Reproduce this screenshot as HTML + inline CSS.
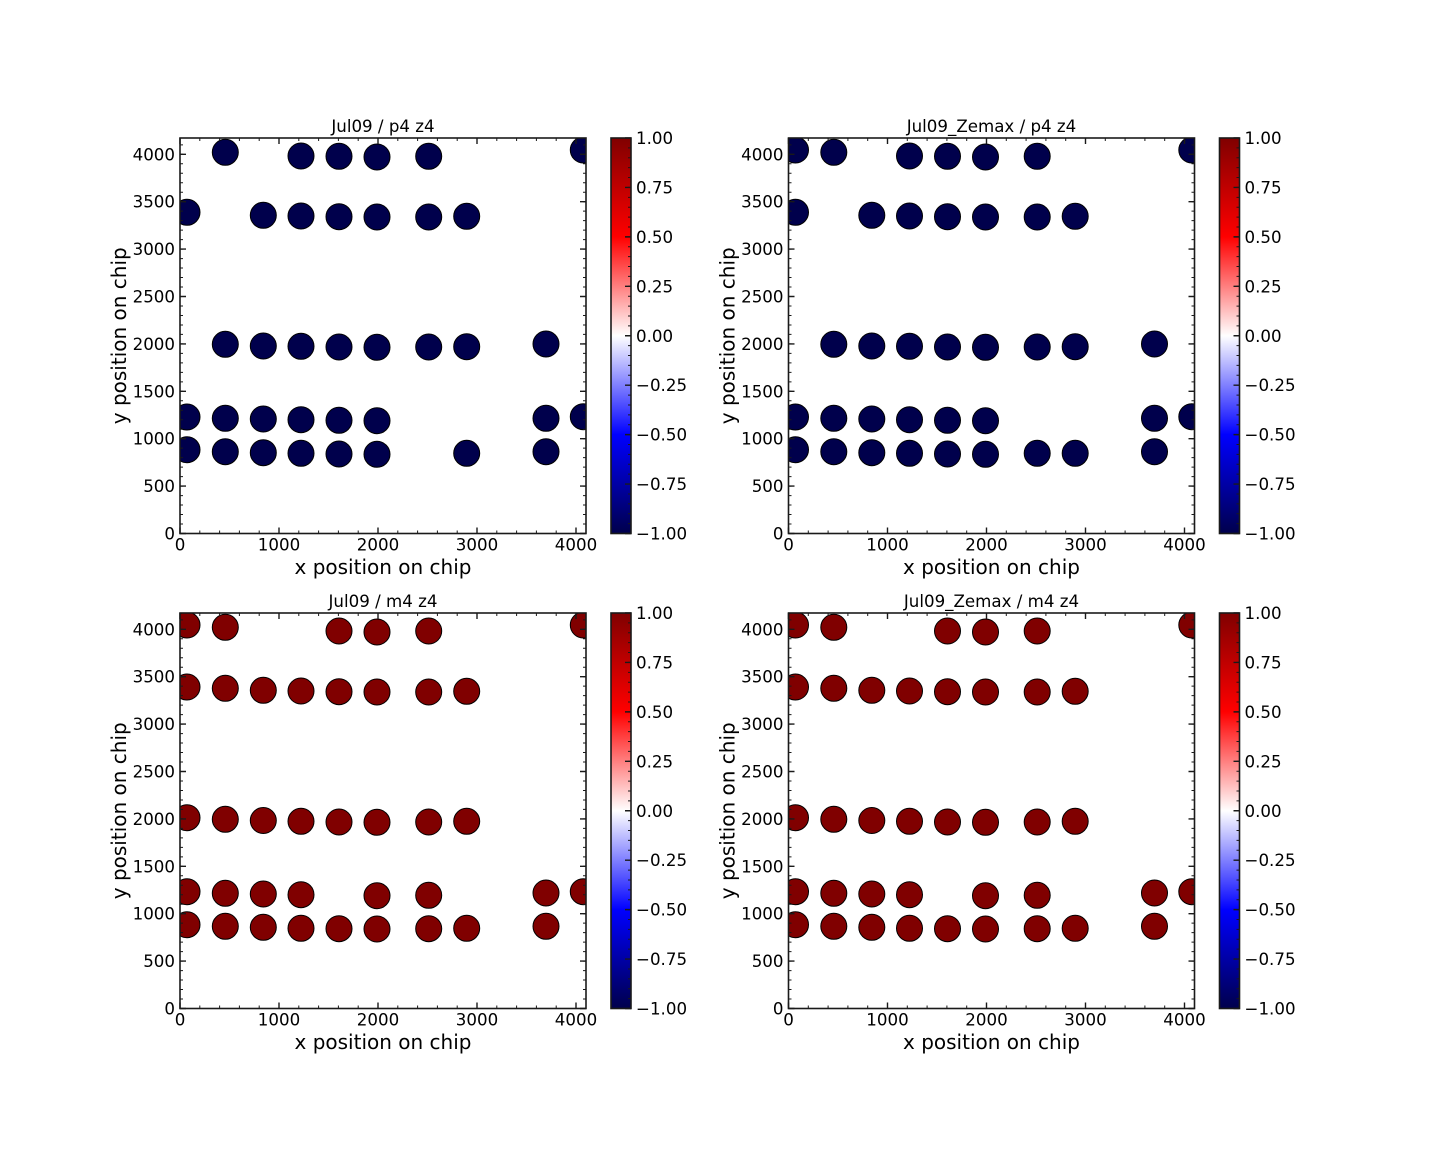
<!DOCTYPE html>
<html>
<head>
<meta charset="utf-8">
<style>
html,body{margin:0;padding:0;background:#fff;}
svg{display:block;}
text{font-family:"DejaVu Sans","Liberation Sans",sans-serif;fill:#000;}
</style>
</head>
<body>
<svg width="1440" height="1152" viewBox="0 0 1440 1152" xmlns="http://www.w3.org/2000/svg" xmlns:xlink="http://www.w3.org/1999/xlink">
<defs>
  <linearGradient id="seis" x1="0" y1="0" x2="0" y2="1">
    <stop offset="0" stop-color="#800000"/>
    <stop offset="0.25" stop-color="#ff0000"/>
    <stop offset="0.5" stop-color="#ffffff"/>
    <stop offset="0.75" stop-color="#0000ff"/>
    <stop offset="1" stop-color="#00004c"/>
  </linearGradient>
  <g id="ax" fill="none" stroke="#1a1a1a">
    <path stroke-width="1.4" d="M0 395.5v-6M99 395.5v-6M198 395.5v-6M297 395.5v-6M396 395.5v-6M0 0v6M99 0v6M198 0v6M297 0v6M396 0v6M0 395.5h6M0 348.1h6M0 300.7h6M0 253.3h6M0 205.9h6M0 158.5h6M0 111.1h6M0 63.7h6M0 16.3h6M406 395.5h-6M406 348.1h-6M406 300.7h-6M406 253.3h-6M406 205.9h-6M406 158.5h-6M406 111.1h-6M406 63.7h-6M406 16.3h-6"/>
    <path stroke-width="1" d="M0 395.5v-3m19.8 3v-3m19.8 3v-3m19.8 3v-3m19.8 3v-3m19.8 3v-3m19.8 3v-3m19.8 3v-3m19.8 3v-3m19.8 3v-3m19.8 3v-3m19.8 3v-3m19.8 3v-3m19.8 3v-3m19.8 3v-3m19.8 3v-3m19.8 3v-3m19.8 3v-3m19.8 3v-3m19.8 3v-3m19.8 3v-3"/>
    <path stroke-width="1" d="M0 0v3m19.8 -3v3m19.8 -3v3m19.8 -3v3m19.8 -3v3m19.8 -3v3m19.8 -3v3m19.8 -3v3m19.8 -3v3m19.8 -3v3m19.8 -3v3m19.8 -3v3m19.8 -3v3m19.8 -3v3m19.8 -3v3m19.8 -3v3m19.8 -3v3m19.8 -3v3m19.8 -3v3m19.8 -3v3m19.8 -3v3"/>
    <path stroke-width="1" d="M0 395.5h3m-3 -9.48h3m-3 -9.48h3m-3 -9.48h3m-3 -9.48h3m-3 -9.48h3m-3 -9.48h3m-3 -9.48h3m-3 -9.48h3m-3 -9.48h3m-3 -9.48h3m-3 -9.48h3m-3 -9.48h3m-3 -9.48h3m-3 -9.48h3m-3 -9.48h3m-3 -9.48h3m-3 -9.48h3m-3 -9.48h3m-3 -9.48h3m-3 -9.48h3m-3 -9.48h3m-3 -9.48h3m-3 -9.48h3m-3 -9.48h3m-3 -9.48h3m-3 -9.48h3m-3 -9.48h3m-3 -9.48h3m-3 -9.48h3m-3 -9.48h3m-3 -9.48h3m-3 -9.48h3m-3 -9.48h3m-3 -9.48h3m-3 -9.48h3m-3 -9.48h3m-3 -9.48h3m-3 -9.48h3m-3 -9.48h3m-3 -9.48h3m-3 -9.48h3"/>
    <path stroke-width="1" d="M406 395.5h-3m3 -9.48h-3m3 -9.48h-3m3 -9.48h-3m3 -9.48h-3m3 -9.48h-3m3 -9.48h-3m3 -9.48h-3m3 -9.48h-3m3 -9.48h-3m3 -9.48h-3m3 -9.48h-3m3 -9.48h-3m3 -9.48h-3m3 -9.48h-3m3 -9.48h-3m3 -9.48h-3m3 -9.48h-3m3 -9.48h-3m3 -9.48h-3m3 -9.48h-3m3 -9.48h-3m3 -9.48h-3m3 -9.48h-3m3 -9.48h-3m3 -9.48h-3m3 -9.48h-3m3 -9.48h-3m3 -9.48h-3m3 -9.48h-3m3 -9.48h-3m3 -9.48h-3m3 -9.48h-3m3 -9.48h-3m3 -9.48h-3m3 -9.48h-3m3 -9.48h-3m3 -9.48h-3m3 -9.48h-3m3 -9.48h-3m3 -9.48h-3m3 -9.48h-3"/>
    <rect x="0" y="0" width="406" height="395.5" stroke-width="1.6"/>
  </g>
  <g id="cb">
    <rect x="0" y="0" width="20" height="395.5" fill="url(#seis)"/>
    <g fill="none" stroke="#1a1a1a">
      <path stroke-width="1.4" d="M20 0h-6M20 49.44h-6M20 98.88h-6M20 148.31h-6M20 197.75h-6M20 247.19h-6M20 296.63h-6M20 346.06h-6M20 395.5h-6"/>
      <path stroke-width="1" d="M20 395.5h-3m3 -9.8875h-3m3 -9.8875h-3m3 -9.8875h-3m3 -9.8875h-3m3 -9.8875h-3m3 -9.8875h-3m3 -9.8875h-3m3 -9.8875h-3m3 -9.8875h-3m3 -9.8875h-3m3 -9.8875h-3m3 -9.8875h-3m3 -9.8875h-3m3 -9.8875h-3m3 -9.8875h-3m3 -9.8875h-3m3 -9.8875h-3m3 -9.8875h-3m3 -9.8875h-3m3 -9.8875h-3m3 -9.8875h-3m3 -9.8875h-3m3 -9.8875h-3m3 -9.8875h-3m3 -9.8875h-3m3 -9.8875h-3m3 -9.8875h-3m3 -9.8875h-3m3 -9.8875h-3m3 -9.8875h-3m3 -9.8875h-3m3 -9.8875h-3m3 -9.8875h-3m3 -9.8875h-3m3 -9.8875h-3m3 -9.8875h-3m3 -9.8875h-3m3 -9.8875h-3m3 -9.8875h-3m3 -9.8875h-3"/>
      <rect x="0" y="0" width="20" height="395.5" stroke-width="1.6"/>
    </g>
  </g>
</defs>

<!-- ===== Top-left: Jul09 / p4 z4 ===== -->
<svg x="180" y="138" width="406" height="395.5" overflow="hidden">
  <g fill="#00004c" stroke="#000" stroke-width="1">
    <circle cx="45.3" cy="14.3" r="13"/><circle cx="121" cy="18" r="13"/><circle cx="159" cy="18.3" r="13"/><circle cx="197" cy="19" r="13"/><circle cx="248.7" cy="18.3" r="13"/><circle cx="403.3" cy="12" r="13"/>
    <circle cx="7" cy="74.3" r="13"/><circle cx="83.3" cy="77.3" r="13"/><circle cx="121" cy="78" r="13"/><circle cx="159" cy="78.7" r="13"/><circle cx="197" cy="79" r="13"/><circle cx="248.7" cy="79" r="13"/><circle cx="286.7" cy="78.3" r="13"/>
    <circle cx="45.3" cy="206.3" r="13"/><circle cx="83.3" cy="208" r="13"/><circle cx="121" cy="208.3" r="13"/><circle cx="159" cy="209" r="13"/><circle cx="197" cy="209.3" r="13"/><circle cx="248.7" cy="209" r="13"/><circle cx="286.7" cy="208.7" r="13"/><circle cx="366" cy="206" r="13"/>
    <circle cx="7" cy="279" r="13"/><circle cx="45.3" cy="280.3" r="13"/><circle cx="83.3" cy="281" r="13"/><circle cx="121" cy="281.7" r="13"/><circle cx="159" cy="282.3" r="13"/><circle cx="197" cy="282.7" r="13"/><circle cx="366" cy="280.3" r="13"/><circle cx="403.3" cy="278.7" r="13"/>
    <circle cx="7" cy="311.7" r="13"/><circle cx="45.3" cy="313.7" r="13"/><circle cx="83.3" cy="314.7" r="13"/><circle cx="121" cy="315.3" r="13"/><circle cx="159" cy="316" r="13"/><circle cx="197" cy="316.3" r="13"/><circle cx="286.7" cy="315.3" r="13"/><circle cx="366" cy="313.7" r="13"/>
  </g>
</svg>

<!-- ===== Top-right: Jul09_Zemax / p4 z4 ===== -->
<svg x="788.5" y="138" width="406" height="395.5" overflow="hidden">
  <g fill="#00004c" stroke="#000" stroke-width="1">
    <circle cx="7" cy="12" r="13"/><circle cx="45.3" cy="14.3" r="13"/><circle cx="121" cy="18" r="13"/><circle cx="159" cy="18.3" r="13"/><circle cx="197" cy="19" r="13"/><circle cx="248.7" cy="18.3" r="13"/><circle cx="403.3" cy="12" r="13"/>
    <circle cx="7" cy="74.3" r="13"/><circle cx="83.3" cy="77.3" r="13"/><circle cx="121" cy="78" r="13"/><circle cx="159" cy="78.7" r="13"/><circle cx="197" cy="79" r="13"/><circle cx="248.7" cy="79" r="13"/><circle cx="286.7" cy="78.3" r="13"/>
    <circle cx="45.3" cy="206.3" r="13"/><circle cx="83.3" cy="208" r="13"/><circle cx="121" cy="208.3" r="13"/><circle cx="159" cy="209" r="13"/><circle cx="197" cy="209.3" r="13"/><circle cx="248.7" cy="209" r="13"/><circle cx="286.7" cy="208.7" r="13"/><circle cx="366" cy="206" r="13"/>
    <circle cx="7" cy="279" r="13"/><circle cx="45.3" cy="280.3" r="13"/><circle cx="83.3" cy="281" r="13"/><circle cx="121" cy="281.7" r="13"/><circle cx="159" cy="282.3" r="13"/><circle cx="197" cy="282.7" r="13"/><circle cx="366" cy="280.3" r="13"/><circle cx="403.3" cy="278.7" r="13"/>
    <circle cx="7" cy="311.7" r="13"/><circle cx="45.3" cy="313.7" r="13"/><circle cx="83.3" cy="314.7" r="13"/><circle cx="121" cy="315.3" r="13"/><circle cx="159" cy="316" r="13"/><circle cx="197" cy="316.3" r="13"/><circle cx="248.7" cy="315.3" r="13"/><circle cx="286.7" cy="315.3" r="13"/><circle cx="366" cy="313.7" r="13"/>
  </g>
</svg>

<!-- ===== Bottom-left: Jul09 / m4 z4 ===== -->
<svg x="180" y="613" width="406" height="395.5" overflow="hidden">
  <g fill="#800000" stroke="#000" stroke-width="1">
    <circle cx="7" cy="12" r="13"/><circle cx="45.3" cy="14.3" r="13"/><circle cx="159" cy="18" r="13"/><circle cx="197" cy="19" r="13"/><circle cx="248.7" cy="18" r="13"/><circle cx="403.3" cy="12" r="13"/>
    <circle cx="7" cy="74" r="13"/><circle cx="45.3" cy="75.3" r="13"/><circle cx="83.3" cy="77.3" r="13"/><circle cx="121" cy="78" r="13"/><circle cx="159" cy="78.7" r="13"/><circle cx="197" cy="79" r="13"/><circle cx="248.7" cy="79" r="13"/><circle cx="286.7" cy="78.3" r="13"/>
    <circle cx="7" cy="204.7" r="13"/><circle cx="45.3" cy="206.3" r="13"/><circle cx="83.3" cy="207.5" r="13"/><circle cx="121" cy="208.3" r="13"/><circle cx="159" cy="209" r="13"/><circle cx="197" cy="209.3" r="13"/><circle cx="248.7" cy="209" r="13"/><circle cx="286.7" cy="208.3" r="13"/>
    <circle cx="7" cy="278.7" r="13"/><circle cx="45.3" cy="280.3" r="13"/><circle cx="83.3" cy="281" r="13"/><circle cx="121" cy="281.7" r="13"/><circle cx="197" cy="282.7" r="13"/><circle cx="248.7" cy="282.3" r="13"/><circle cx="366" cy="280" r="13"/><circle cx="403.3" cy="278.7" r="13"/>
    <circle cx="7" cy="311.7" r="13"/><circle cx="45.3" cy="313.3" r="13"/><circle cx="83.3" cy="314.3" r="13"/><circle cx="121" cy="315.3" r="13"/><circle cx="159" cy="315.7" r="13"/><circle cx="197" cy="316" r="13"/><circle cx="248.7" cy="315.7" r="13"/><circle cx="286.7" cy="315.3" r="13"/><circle cx="366" cy="313.3" r="13"/>
  </g>
</svg>

<!-- ===== Bottom-right: Jul09_Zemax / m4 z4 ===== -->
<svg x="788.5" y="613" width="406" height="395.5" overflow="hidden">
  <g fill="#800000" stroke="#000" stroke-width="1">
    <circle cx="7" cy="12" r="13"/><circle cx="45.3" cy="14.3" r="13"/><circle cx="159" cy="18" r="13"/><circle cx="197" cy="19" r="13"/><circle cx="248.7" cy="18" r="13"/><circle cx="403.3" cy="12" r="13"/>
    <circle cx="7" cy="74" r="13"/><circle cx="45.3" cy="75.3" r="13"/><circle cx="83.3" cy="77.3" r="13"/><circle cx="121" cy="78" r="13"/><circle cx="159" cy="78.7" r="13"/><circle cx="197" cy="79" r="13"/><circle cx="248.7" cy="79" r="13"/><circle cx="286.7" cy="78.3" r="13"/>
    <circle cx="7" cy="204.7" r="13"/><circle cx="45.3" cy="206.3" r="13"/><circle cx="83.3" cy="207.5" r="13"/><circle cx="121" cy="208.3" r="13"/><circle cx="159" cy="209" r="13"/><circle cx="197" cy="209.3" r="13"/><circle cx="248.7" cy="209" r="13"/><circle cx="286.7" cy="208.3" r="13"/>
    <circle cx="7" cy="278.7" r="13"/><circle cx="45.3" cy="280.3" r="13"/><circle cx="83.3" cy="281" r="13"/><circle cx="121" cy="281.7" r="13"/><circle cx="197" cy="282.7" r="13"/><circle cx="248.7" cy="282.3" r="13"/><circle cx="366" cy="280" r="13"/><circle cx="403.3" cy="278.7" r="13"/>
    <circle cx="7" cy="311.7" r="13"/><circle cx="45.3" cy="313.3" r="13"/><circle cx="83.3" cy="314.3" r="13"/><circle cx="121" cy="315.3" r="13"/><circle cx="159" cy="315.7" r="13"/><circle cx="197" cy="316" r="13"/><circle cx="248.7" cy="315.7" r="13"/><circle cx="286.7" cy="315.3" r="13"/><circle cx="366" cy="313.3" r="13"/>
  </g>
</svg>

<!-- axes decorations -->
<use xlink:href="#ax" href="#ax" x="180" y="138"/>
<use xlink:href="#ax" href="#ax" x="788.5" y="138"/>
<use xlink:href="#ax" href="#ax" x="180" y="613"/>
<use xlink:href="#ax" href="#ax" x="788.5" y="613"/>
<!-- colorbars -->
<use xlink:href="#cb" href="#cb" x="611" y="138"/>
<use xlink:href="#cb" href="#cb" x="1219.5" y="138"/>
<use xlink:href="#cb" href="#cb" x="611" y="613"/>
<use xlink:href="#cb" href="#cb" x="1219.5" y="613"/>

<!-- ===== Texts: panel TL ===== -->
<g>
  <text x="383" y="132" font-size="16.67" text-anchor="middle">Jul09 / p4 z4</text>
  <g font-size="16.67" text-anchor="end">
    <text x="175" y="539.5">0</text>
    <text x="175" y="492.1">500</text>
    <text x="175" y="444.7">1000</text>
    <text x="175" y="397.3">1500</text>
    <text x="175" y="349.9">2000</text>
    <text x="175" y="302.5">2500</text>
    <text x="175" y="255.1">3000</text>
    <text x="175" y="207.7">3500</text>
    <text x="175" y="160.3">4000</text>
  </g>
  <g font-size="16.67" text-anchor="middle">
    <text x="180" y="550.5">0</text>
    <text x="279" y="550.5">1000</text>
    <text x="378" y="550.5">2000</text>
    <text x="477" y="550.5">3000</text>
    <text x="576" y="550.5">4000</text>
  </g>
  <g font-size="16.67">
    <text x="636" y="144">1.00</text>
    <text x="636" y="193.4">0.75</text>
    <text x="636" y="242.9">0.50</text>
    <text x="636" y="292.3">0.25</text>
    <text x="636" y="341.8">0.00</text>
    <text x="636" y="391.2">−0.25</text>
    <text x="636" y="440.6">−0.50</text>
    <text x="636" y="490.1">−0.75</text>
    <text x="636" y="539.5">−1.00</text>
  </g>
  <text x="383" y="574" font-size="20" text-anchor="middle">x position on chip</text>
  <text x="0" y="0" font-size="20" text-anchor="middle" transform="translate(126,335.75) rotate(-90)">y position on chip</text>
</g>

<!-- panel TR -->
<g transform="translate(608.5,0)">
  <text x="383" y="132" font-size="16.67" text-anchor="middle">Jul09_Zemax / p4 z4</text>
  <g font-size="16.67" text-anchor="end">
    <text x="175" y="539.5">0</text>
    <text x="175" y="492.1">500</text>
    <text x="175" y="444.7">1000</text>
    <text x="175" y="397.3">1500</text>
    <text x="175" y="349.9">2000</text>
    <text x="175" y="302.5">2500</text>
    <text x="175" y="255.1">3000</text>
    <text x="175" y="207.7">3500</text>
    <text x="175" y="160.3">4000</text>
  </g>
  <g font-size="16.67" text-anchor="middle">
    <text x="180" y="550.5">0</text>
    <text x="279" y="550.5">1000</text>
    <text x="378" y="550.5">2000</text>
    <text x="477" y="550.5">3000</text>
    <text x="576" y="550.5">4000</text>
  </g>
  <g font-size="16.67">
    <text x="636" y="144">1.00</text>
    <text x="636" y="193.4">0.75</text>
    <text x="636" y="242.9">0.50</text>
    <text x="636" y="292.3">0.25</text>
    <text x="636" y="341.8">0.00</text>
    <text x="636" y="391.2">−0.25</text>
    <text x="636" y="440.6">−0.50</text>
    <text x="636" y="490.1">−0.75</text>
    <text x="636" y="539.5">−1.00</text>
  </g>
  <text x="383" y="574" font-size="20" text-anchor="middle">x position on chip</text>
  <text x="0" y="0" font-size="20" text-anchor="middle" transform="translate(126,335.75) rotate(-90)">y position on chip</text>
</g>

<!-- panel BL -->
<g transform="translate(0,475)">
  <text x="383" y="132" font-size="16.67" text-anchor="middle">Jul09 / m4 z4</text>
  <g font-size="16.67" text-anchor="end">
    <text x="175" y="539.5">0</text>
    <text x="175" y="492.1">500</text>
    <text x="175" y="444.7">1000</text>
    <text x="175" y="397.3">1500</text>
    <text x="175" y="349.9">2000</text>
    <text x="175" y="302.5">2500</text>
    <text x="175" y="255.1">3000</text>
    <text x="175" y="207.7">3500</text>
    <text x="175" y="160.3">4000</text>
  </g>
  <g font-size="16.67" text-anchor="middle">
    <text x="180" y="550.5">0</text>
    <text x="279" y="550.5">1000</text>
    <text x="378" y="550.5">2000</text>
    <text x="477" y="550.5">3000</text>
    <text x="576" y="550.5">4000</text>
  </g>
  <g font-size="16.67">
    <text x="636" y="144">1.00</text>
    <text x="636" y="193.4">0.75</text>
    <text x="636" y="242.9">0.50</text>
    <text x="636" y="292.3">0.25</text>
    <text x="636" y="341.8">0.00</text>
    <text x="636" y="391.2">−0.25</text>
    <text x="636" y="440.6">−0.50</text>
    <text x="636" y="490.1">−0.75</text>
    <text x="636" y="539.5">−1.00</text>
  </g>
  <text x="383" y="574" font-size="20" text-anchor="middle">x position on chip</text>
  <text x="0" y="0" font-size="20" text-anchor="middle" transform="translate(126,335.75) rotate(-90)">y position on chip</text>
</g>

<!-- panel BR -->
<g transform="translate(608.5,475)">
  <text x="383" y="132" font-size="16.67" text-anchor="middle">Jul09_Zemax / m4 z4</text>
  <g font-size="16.67" text-anchor="end">
    <text x="175" y="539.5">0</text>
    <text x="175" y="492.1">500</text>
    <text x="175" y="444.7">1000</text>
    <text x="175" y="397.3">1500</text>
    <text x="175" y="349.9">2000</text>
    <text x="175" y="302.5">2500</text>
    <text x="175" y="255.1">3000</text>
    <text x="175" y="207.7">3500</text>
    <text x="175" y="160.3">4000</text>
  </g>
  <g font-size="16.67" text-anchor="middle">
    <text x="180" y="550.5">0</text>
    <text x="279" y="550.5">1000</text>
    <text x="378" y="550.5">2000</text>
    <text x="477" y="550.5">3000</text>
    <text x="576" y="550.5">4000</text>
  </g>
  <g font-size="16.67">
    <text x="636" y="144">1.00</text>
    <text x="636" y="193.4">0.75</text>
    <text x="636" y="242.9">0.50</text>
    <text x="636" y="292.3">0.25</text>
    <text x="636" y="341.8">0.00</text>
    <text x="636" y="391.2">−0.25</text>
    <text x="636" y="440.6">−0.50</text>
    <text x="636" y="490.1">−0.75</text>
    <text x="636" y="539.5">−1.00</text>
  </g>
  <text x="383" y="574" font-size="20" text-anchor="middle">x position on chip</text>
  <text x="0" y="0" font-size="20" text-anchor="middle" transform="translate(126,335.75) rotate(-90)">y position on chip</text>
</g>
</svg>
</body>
</html>
